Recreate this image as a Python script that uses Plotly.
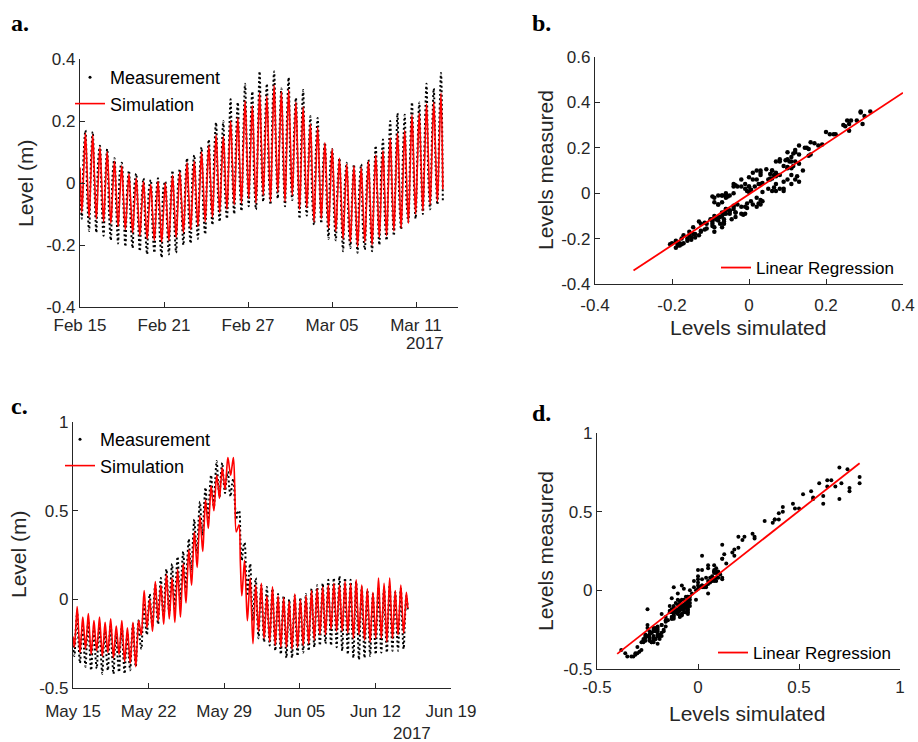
import numpy as np
import pandas as pd
import plotly.graph_objects as go

# ---------------------------------------------------------------------------
# Water levels, sampled every quarter of a semidiurnal tidal cycle.
# Each cycle is stored as: falling mid-level, low water, rising mid-level,
# high water.  The "fall" lists carry one extra closing value.
# ---------------------------------------------------------------------------

# Period 1: Feb 15 - Mar 13, 2017
A_START = "2017-02-15 00:00"
A_STEP_H = 3.11

a_sim_fall = [0.05, 0.025, 0.02, -0.005, -0.015, -0.035, -0.05, -0.065, -0.08, -0.09,
              -0.095, -0.09, -0.095, -0.075, -0.06, -0.045, -0.035, -0.01, 0.005, 0.03,
              0.035, 0.065, 0.07, 0.11, 0.09, 0.125, 0.11, 0.14, 0.12, 0.13,
              0.09, 0.08, 0.03, 0.035, -0.01, -0.02, -0.05, -0.065, -0.075, -0.07,
              -0.065, -0.04, -0.035, -0.005, 0.01, 0.02, 0.06, 0.07, 0.09, 0.10,
              -0.02]
a_sim_low = [-0.095, -0.11, -0.115, -0.125, -0.13, -0.14, -0.15, -0.16, -0.17, -0.18,
             -0.185, -0.19, -0.185, -0.175, -0.16, -0.15, -0.14, -0.125, -0.11, -0.095,
             -0.085, -0.07, -0.065, -0.05, -0.065, -0.04, -0.06, -0.03, -0.06, -0.04,
             -0.085, -0.08, -0.125, -0.115, -0.145, -0.155, -0.18, -0.19, -0.205, -0.19,
             -0.20, -0.175, -0.17, -0.155, -0.145, -0.13, -0.10, -0.09, -0.07, -0.06]
a_sim_rise = [0.03, 0.02, 0.0, -0.01, -0.03, -0.04, -0.06, -0.07, -0.08, -0.09,
              -0.09, -0.095, -0.08, -0.07, -0.05, -0.04, -0.02, 0.0, 0.02, 0.03,
              0.06, 0.07, 0.10, 0.10, 0.11, 0.12, 0.13, 0.13, 0.12, 0.11,
              0.08, 0.055, 0.03, 0.01, -0.02, -0.04, -0.06, -0.07, -0.08, -0.06,
              -0.055, -0.035, -0.01, 0.0, 0.01, 0.045, 0.06, 0.08, 0.095, 0.115]
a_sim_high = [0.16, 0.155, 0.115, 0.10, 0.07, 0.055, 0.03, 0.015, 0.005, -0.005,
              0.005, 0.0, 0.025, 0.035, 0.065, 0.07, 0.10, 0.12, 0.155, 0.15,
              0.20, 0.21, 0.265, 0.25, 0.29, 0.28, 0.315, 0.295, 0.30, 0.26,
              0.245, 0.19, 0.18, 0.13, 0.11, 0.08, 0.06, 0.055, 0.05, 0.07,
              0.09, 0.105, 0.145, 0.16, 0.17, 0.22, 0.225, 0.255, 0.26, 0.29]

a_meas_fall = [0.02, -0.045, -0.02, -0.065, -0.095, -0.085, -0.08, -0.135, -0.12, -0.15,
               -0.145, -0.17, -0.135, -0.135, -0.09, -0.115, -0.085, -0.09, -0.035, -0.03,
               -0.035, 0.025, 0.01, 0.08, 0.01, 0.075, 0.04, 0.10, 0.06, 0.05,
               0.05, 0.02, -0.05, 0.005, -0.06, -0.09, -0.09, -0.125, -0.105, -0.15,
               -0.115, -0.07, -0.105, -0.045, -0.05, -0.06, 0.01, 0.04, 0.02, 0.06,
               -0.06]
a_meas_low = [-0.115, -0.155, -0.16, -0.17, -0.185, -0.195, -0.205, -0.21, -0.22, -0.23,
              -0.225, -0.24, -0.23, -0.225, -0.20, -0.195, -0.18, -0.165, -0.135, -0.125,
              -0.115, -0.10, -0.09, -0.075, -0.085, -0.06, -0.07, -0.05, -0.075, -0.055,
              -0.115, -0.105, -0.135, -0.13, -0.18, -0.185, -0.22, -0.21, -0.225, -0.215,
              -0.22, -0.20, -0.185, -0.17, -0.15, -0.125, -0.115, -0.10, -0.085, -0.07]
a_meas_rise = [0.09, 0.06, 0.07, 0.02, 0.03, 0.04, -0.02, -0.01, -0.05, -0.02,
               -0.04, -0.015, -0.05, -0.01, -0.01, 0.03, 0.03, 0.03, 0.10, 0.08,
               0.10, 0.14, 0.15, 0.18, 0.14, 0.18, 0.21, 0.17, 0.19, 0.16,
               0.14, 0.085, 0.10, 0.06, 0.06, 0.0, 0.0, -0.04, -0.01, -0.01,
               -0.015, 0.035, 0.04, 0.03, 0.09, 0.105, 0.10, 0.15, 0.145, 0.175]
a_meas_high = [0.17, 0.165, 0.12, 0.11, 0.08, 0.065, 0.04, 0.03, 0.015, 0.01,
               0.015, 0.005, 0.04, 0.045, 0.08, 0.09, 0.115, 0.14, 0.195, 0.20,
               0.27, 0.26, 0.32, 0.295, 0.36, 0.32, 0.36, 0.305, 0.34, 0.275,
               0.30, 0.215, 0.21, 0.13, 0.11, 0.08, 0.065, 0.06, 0.06, 0.075,
               0.12, 0.14, 0.20, 0.225, 0.22, 0.26, 0.26, 0.32, 0.305, 0.355]

# Period 2: May 15 - Jun 15, 2017 (storm surge around May 29)
C_START = "2017-05-15 00:00"
C_STEP_H = 3.1

c_sim_fall = [-0.21, -0.17, -0.19, -0.20, -0.21, -0.21, -0.22, -0.22, -0.23, -0.24,
              -0.26, -0.26, -0.16, -0.06, -0.09, -0.01, -0.03, 0.02, 0.0, 0.04,
              0.09, 0.18, 0.28, 0.37, 0.48, 0.57, 0.64, 0.68, 0.75, 0.62,
              0.20, 0.05, -0.07, -0.05, -0.07, -0.11, -0.10, -0.13, -0.13, -0.15,
              -0.12, -0.13, -0.12, -0.09, -0.07, -0.07, -0.05, -0.04, -0.05, -0.05,
              -0.07, -0.05, -0.08, -0.09, -0.09, -0.05, -0.08, -0.05, -0.08, -0.06,
              -0.05]
c_sim_low = [-0.27, -0.30, -0.28, -0.31, -0.29, -0.32, -0.30, -0.33, -0.31, -0.35,
             -0.36, -0.38, -0.20, -0.16, -0.18, -0.12, -0.14, -0.11, -0.13, -0.10,
             -0.02, 0.08, 0.18, 0.27, 0.40, 0.50, 0.57, 0.62, 0.70, 0.38,
             0.02, -0.12, -0.25, -0.18, -0.22, -0.24, -0.26, -0.27, -0.27, -0.28,
             -0.27, -0.26, -0.25, -0.23, -0.20, -0.20, -0.17, -0.18, -0.18, -0.19,
             -0.22, -0.20, -0.23, -0.24, -0.22, -0.22, -0.24, -0.22, -0.20, -0.19]
c_sim_rise = [-0.16, -0.20, -0.18, -0.22, -0.20, -0.23, -0.21, -0.24, -0.22, -0.26,
              -0.25, -0.25, -0.08, -0.08, -0.04, -0.02, 0.0, 0.0, 0.02, 0.05,
              0.13, 0.23, 0.33, 0.42, 0.52, 0.60, 0.66, 0.71, 0.75, 0.40,
              0.12, 0.0, -0.08, -0.05, -0.10, -0.09, -0.12, -0.13, -0.14, -0.13,
              -0.14, -0.12, -0.10, -0.09, -0.07, -0.06, -0.04, -0.05, -0.04, -0.05,
              -0.06, -0.06, -0.09, -0.10, -0.05, -0.07, -0.06, -0.09, -0.06, -0.08]
c_sim_high = [-0.04, -0.10, -0.08, -0.12, -0.10, -0.13, -0.11, -0.15, -0.12, -0.16,
              -0.13, -0.12, 0.05, 0.0, 0.10, 0.08, 0.14, 0.12, 0.17, 0.20,
              0.28, 0.38, 0.47, 0.56, 0.64, 0.70, 0.74, 0.80, 0.80, 0.42,
              0.22, 0.12, 0.08, 0.09, 0.02, 0.07, 0.02, 0.01, -0.01, 0.03,
              0.0, 0.02, 0.05, 0.06, 0.07, 0.08, 0.09, 0.08, 0.10, 0.09,
              0.11, 0.08, 0.06, 0.04, 0.12, 0.09, 0.12, 0.05, 0.08, 0.04]

c_meas_fall = [-0.26, -0.25, -0.29, -0.29, -0.31, -0.31, -0.32, -0.31, -0.33, -0.31,
               -0.32, -0.29, -0.23, -0.14, -0.09, -0.06, -0.02, 0.02, 0.05, 0.08,
               0.14, 0.22, 0.33, 0.43, 0.52, 0.59, 0.66, 0.66, 0.63, 0.55,
               0.34, 0.14, 0.01, -0.08, -0.11, -0.12, -0.14, -0.17, -0.18, -0.19,
               -0.18, -0.17, -0.16, -0.13, -0.12, -0.11, -0.10, -0.10, -0.11, -0.12,
               -0.14, -0.15, -0.16, -0.16, -0.17, -0.14, -0.15, -0.13, -0.15, -0.14,
               -0.06]
c_meas_low = [-0.32, -0.36, -0.38, -0.40, -0.39, -0.42, -0.40, -0.42, -0.41, -0.42,
              -0.40, -0.38, -0.28, -0.20, -0.15, -0.14, -0.10, -0.08, -0.05, -0.02,
              0.06, 0.16, 0.26, 0.36, 0.45, 0.52, 0.58, 0.60, 0.58, 0.45,
              0.22, 0.02, -0.12, -0.22, -0.24, -0.26, -0.29, -0.31, -0.33, -0.33,
              -0.32, -0.30, -0.29, -0.27, -0.26, -0.25, -0.26, -0.27, -0.29, -0.31,
              -0.33, -0.34, -0.33, -0.32, -0.31, -0.30, -0.30, -0.29, -0.29, -0.28]
c_meas_rise = [-0.17, -0.23, -0.22, -0.26, -0.24, -0.27, -0.24, -0.28, -0.25, -0.28,
               -0.24, -0.22, -0.12, -0.06, 0.0, 0.02, 0.07, 0.09, 0.13, 0.16,
               0.23, 0.34, 0.44, 0.53, 0.61, 0.68, 0.70, 0.68, 0.65, 0.49,
               0.29, 0.13, 0.03, -0.04, -0.06, -0.07, -0.10, -0.12, -0.14, -0.13,
               -0.13, -0.11, -0.09, -0.07, -0.06, -0.04, -0.04, -0.04, -0.06, -0.07,
               -0.09, -0.11, -0.11, -0.12, -0.09, -0.09, -0.08, -0.10, -0.09, -0.10]
c_meas_high = [-0.08, -0.15, -0.12, -0.17, -0.14, -0.18, -0.14, -0.19, -0.15, -0.19,
               -0.14, -0.12, -0.02, 0.03, 0.08, 0.12, 0.17, 0.20, 0.24, 0.27,
               0.34, 0.45, 0.55, 0.63, 0.70, 0.78, 0.77, 0.72, 0.68, 0.50,
               0.32, 0.20, 0.12, 0.08, 0.07, 0.06, 0.03, 0.02, 0.0, 0.02,
               0.01, 0.03, 0.06, 0.08, 0.09, 0.11, 0.12, 0.13, 0.12, 0.11,
               0.10, 0.07, 0.05, 0.03, 0.07, 0.06, 0.08, 0.04, 0.06, 0.02]

# Linear regression of measured on simulated levels
B_SLOPE, B_INTERCEPT, B_FIT_RANGE = 1.12, -0.005, [-0.3, 0.4]
D_SLOPE, D_INTERCEPT, D_FIT_RANGE = 1.01, 0.0, [-0.4, 0.8]

# Axis tick labels
A_TICK_DATES = ["2017-02-15", "2017-02-21", "2017-02-27", "2017-03-05", "2017-03-11"]
A_TICK_TEXT = ["Feb 15", "Feb 21", "Feb 27", "Mar 05", "Mar 11"]
C_TICK_DATES = ["2017-05-15", "2017-05-22", "2017-05-29", "2017-06-05", "2017-06-12", "2017-06-19"]
C_TICK_TEXT = ["May 15", "May 22", "May 29", "Jun 05", "Jun 12", "Jun 19"]


def weave(fall, low, rise, high):
    """Lay the per-cycle lists out in time order."""
    vals = []
    for k in range(len(low)):
        vals.extend([fall[k], low[k], rise[k], high[k]])
    vals.append(fall[len(low)])
    return vals


def times(start, step_h, n):
    return pd.Timestamp(start) + pd.to_timedelta(np.arange(n) * step_h, unit="h")


a_sim = weave(a_sim_fall, a_sim_low, a_sim_rise, a_sim_high)
a_meas = weave(a_meas_fall, a_meas_low, a_meas_rise, a_meas_high)
c_sim = weave(c_sim_fall, c_sim_low, c_sim_rise, c_sim_high)
c_meas = weave(c_meas_fall, c_meas_low, c_meas_rise, c_meas_high)
t_a = times(A_START, A_STEP_H, len(a_sim))
t_c = times(C_START, C_STEP_H, len(c_sim))

# ---------------------------------------------------------------------------
W, H = 918, 742
SANS = "Liberation Sans, Arial, sans-serif"
SERIF = "Liberation Serif, Times New Roman, serif"
INK = "#262626"
RED = "#ff0000"


def fx(p):
    return p / W


def fy(p):
    return 1 - p / H


fig = go.Figure()


def add_timeseries(t, meas, sim, xa, ya, legend):
    # legend entry for the measured series (shown as a single dot)
    fig.add_trace(go.Scatter(x=[None], y=[None], mode="markers", name="Measurement",
                             marker=dict(color="black", size=3), legend=legend,
                             xaxis=xa, yaxis=ya))
    # measured record: closely spaced dots following the gauge record
    fig.add_trace(go.Scatter(x=t, y=meas, mode="lines", showlegend=False,
                             line=dict(color="black", width=2.0, dash="2px,2.5px",
                                       shape="spline"),
                             xaxis=xa, yaxis=ya))
    fig.add_trace(go.Scatter(x=t, y=sim, mode="lines", name="Simulation",
                             line=dict(color=RED, width=1.6, shape="spline"),
                             legend=legend, xaxis=xa, yaxis=ya))


def add_scatter(sim, meas, slope, intercept, fit_range, xa, ya, legend, dot):
    fig.add_trace(go.Scatter(x=sim, y=meas, mode="markers", showlegend=False,
                             marker=dict(color="black", size=dot), xaxis=xa, yaxis=ya))
    fig.add_trace(go.Scatter(x=fit_range, y=[slope * v + intercept for v in fit_range],
                             mode="lines", name="Linear Regression",
                             line=dict(color=RED, width=1.8), legend=legend,
                             xaxis=xa, yaxis=ya))


add_timeseries(t_a, a_meas, a_sim, "x", "y", "legend")
add_scatter(a_sim, a_meas, B_SLOPE, B_INTERCEPT, B_FIT_RANGE, "x2", "y2", "legend2", 4.5)
add_timeseries(t_c, c_meas, c_sim, "x3", "y3", "legend3")
add_scatter(c_sim, c_meas, D_SLOPE, D_INTERCEPT, D_FIT_RANGE, "x4", "y4", "legend4", 4)

axis_style = dict(showline=True, linecolor=INK, linewidth=1.3, ticks="inside",
                  ticklen=5, tickwidth=1.2, tickcolor=INK, showgrid=False,
                  zeroline=False, mirror=False, automargin=False,
                  tickfont=dict(family=SANS, size=17, color=INK))


def num_ticks(vals):
    return dict(tickmode="array", tickvals=vals, ticktext=["%g" % v for v in vals])


legend_style = dict(bgcolor="rgba(0,0,0,0)", borderwidth=0, xanchor="left",
                    yanchor="top", tracegroupgap=0, itemwidth=30,
                    font=dict(family=SANS, size=18, color="black"))
legend_small = {**legend_style, "font": dict(family=SANS, size=17, color="black")}

fig.update_layout(
    template="none",
    width=W, height=H, margin=dict(l=0, r=0, t=0, b=0, autoexpand=False),
    paper_bgcolor="white", plot_bgcolor="white",
    font=dict(family=SANS, color=INK),
    xaxis=dict(domain=[fx(80), fx(458)], anchor="y", type="date",
               range=["2017-02-15", "2017-03-14"], tickmode="array",
               tickvals=A_TICK_DATES, ticktext=A_TICK_TEXT, ticklabelstandoff=2,
               **axis_style),
    yaxis=dict(domain=[fy(307), fy(59)], anchor="x", range=[-0.4, 0.4],
               **num_ticks([-0.4, -0.2, 0, 0.2, 0.4]), **axis_style),
    xaxis2=dict(domain=[fx(595), fx(903)], anchor="y2", range=[-0.4, 0.4],
                ticklabelstandoff=5,
                **num_ticks([-0.4, -0.2, 0, 0.2, 0.4]), **axis_style),
    yaxis2=dict(domain=[fy(284), fy(57)], anchor="x2", range=[-0.4, 0.6],
                **num_ticks([-0.4, -0.2, 0, 0.2, 0.4, 0.6]), **axis_style),
    xaxis3=dict(domain=[fx(73), fx(451)], anchor="y3", type="date",
                range=["2017-05-15", "2017-06-19"], tickmode="array",
                tickvals=C_TICK_DATES, ticktext=C_TICK_TEXT, ticklabelstandoff=7,
                **axis_style),
    yaxis3=dict(domain=[fy(688), fy(422)], anchor="x3", range=[-0.5, 1],
                **num_ticks([-0.5, 0, 0.5, 1]), **axis_style),
    xaxis4=dict(domain=[fx(597), fx(900)], anchor="y4", range=[-0.5, 1],
                ticklabelstandoff=2,
                **num_ticks([-0.5, 0, 0.5, 1]), **axis_style),
    yaxis4=dict(domain=[fy(669), fy(433)], anchor="x4", range=[-0.5, 1],
                **num_ticks([-0.5, 0, 0.5, 1]), **axis_style),
    legend=dict(x=fx(70), y=fy(59), **legend_style),
    legend2=dict(x=fx(716), y=fy(250), **legend_small),
    legend3=dict(x=fx(60), y=fy(421), **legend_style),
    legend4=dict(x=fx(713), y=fy(635), **legend_small),
)

annotations = []


def label(text, x, y, size, angle=0, family=SANS, xanchor="center", color=INK):
    annotations.append(dict(text=text, x=fx(x), y=fy(y), xref="paper", yref="paper",
                            showarrow=False, textangle=angle, xanchor=xanchor,
                            yanchor="middle", font=dict(family=family, size=size, color=color)))


label("<b>a.</b>", 9, 23, 24, family=SERIF, xanchor="left", color="black")
label("<b>b.</b>", 530, 23, 24, family=SERIF, xanchor="left", color="black")
label("<b>c.</b>", 9, 406, 24, family=SERIF, xanchor="left", color="black")
label("<b>d.</b>", 530, 413, 24, family=SERIF, xanchor="left", color="black")

label("Level (m)", 25, 183, 21, angle=-90)
label("Level (m)", 18, 554, 21, angle=-90)
label("Levels measured", 545, 170, 21, angle=-90)
label("Levels measured", 545, 551, 21, angle=-90)
label("Levels simulated", 748, 327, 21)
label("Levels simulated", 747, 713, 21)
label("2017", 425, 343, 17)
label("2017", 412, 733, 17)

fig.update_layout(annotations=annotations)

fig.write_html("out.html")
